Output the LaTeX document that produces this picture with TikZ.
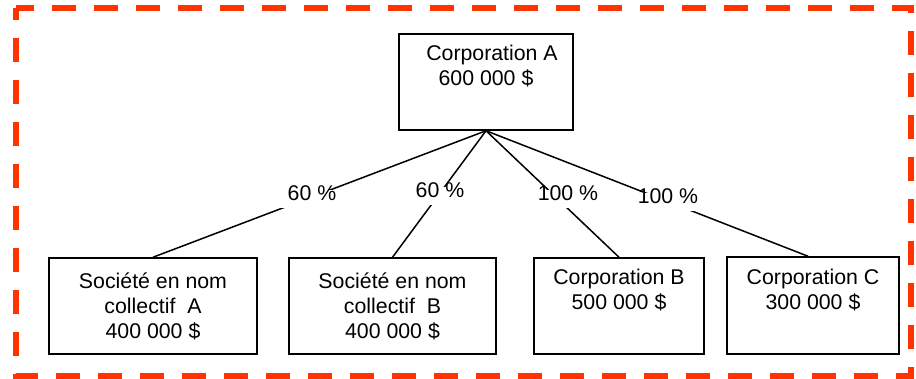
\documentclass[tikz,border=0pt]{standalone}
\usepackage{fontspec}
\setmainfont{Liberation Sans}
\definecolor{cadre}{RGB}{255,51,0}
\tikzset{
  entite/.style={draw, line width=1.5pt, minimum height=96pt, align=center, inner sep=0pt},
  pct/.style={fill=white, inner xsep=14pt, inner ysep=3pt, text height=0.78em, text depth=0.45em},
  lien/.style={line width=1.5pt}
}
\begin{document}
\begin{tikzpicture}[x=1pt, y=-1pt, font=\fontsize{21.3}{25}\selectfont]

			\useasboundingbox (0,0) rectangle (916,379);
			\draw [cadre, line width=6pt, dash pattern=on 24pt off 18pt, dash phase=6pt] (16,8) -- (911,8) -- (911,376) -- (16,376) -- cycle;

			\node [entite, minimum width=174pt] (corpA) at (486,82) {\hspace*{12pt}Corporation A\\600 000 \$\\\strut};

			\node [entite, minimum width=208pt] (sncA) at (153,306) {Société en nom\\collectif\ \ A\\400 000 \$};
			\node [entite, minimum width=207pt] (sncB) at (392.5,306) {Société en nom\\collectif\ \ B\\400 000 \$};
			\node [entite, minimum width=170pt] (corpB) at (619,306) {Corporation B\\500 000 \$\\\strut};
			\node [entite, minimum width=172pt, minimum height=97pt] (corpC) at (813,305.5) {Corporation C\\300 000 \$\\\strut};

			\foreach \enfant in {sncA, sncB, corpB} {\draw [lien] (corpA.south) -- (\enfant.north);}
			\draw [lien] (corpA.south) -- ([xshift=-5pt]corpC.north);

			\node [pct, anchor=base] (pctA) at (312,201) {60 \%};
			\node [pct, anchor=base] (pctB) at (440,198) {60 \%};
			\node [pct, anchor=base] (pctC) at (568,201) {100 \%};
			\node [pct, anchor=base] (pctD) at (668,204) {100 \%};
		\end{tikzpicture}
\end{document}
